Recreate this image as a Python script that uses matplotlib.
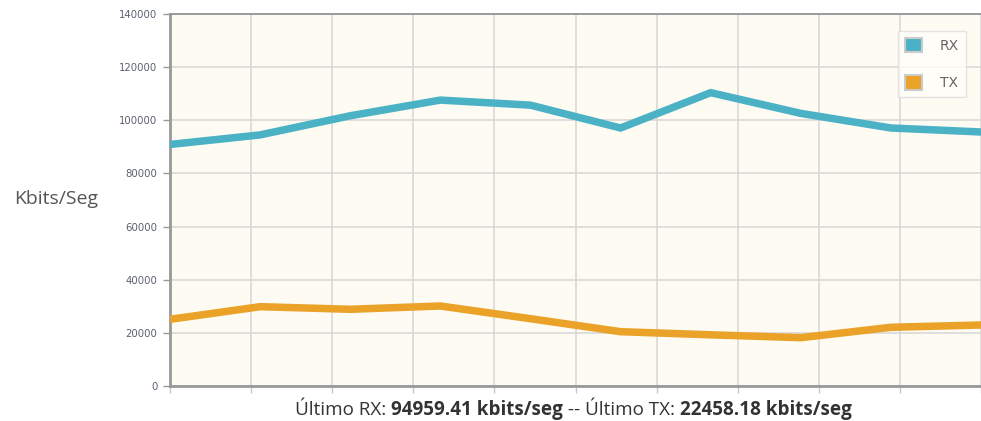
import matplotlib.pyplot as plt
import numpy as np
from matplotlib.patches import Patch

# readings, one per sample (kbits/seg)
rx_values = [90900, 94500, 101700, 107600, 105700, 97100, 110400, 102600, 97100, 95600]
tx_values = [25100, 29850, 28870, 30110, 25330, 20440, 19270, 18180, 22090, 22960]
series_names = ["RX", "TX"]
series_colors = ["#4bb2c5", "#eaa228"]
y_ticks = [0, 20000, 40000, 60000, 80000, 100000, 120000, 140000]
last_rx = "94959.41"
last_tx = "22458.18"

x = np.arange(len(rx_values))

fig = plt.figure(figsize=(9.81, 4.21), dpi=100)
fig.patch.set_facecolor("white")
ax = fig.add_axes([170 / 981, 1 - 386 / 421, 811 / 981, 372 / 421])
ax.set_facecolor("#fefbf3")

for vals, name, col in zip([rx_values, tx_values], series_names, series_colors):
    ax.plot(x, vals, color=col, lw=5.4, solid_joinstyle="miter", label=name, zorder=3)

ax.set_xlim(0, len(x) - 1)
ax.set_ylim(0, 140000)
ax.set_yticks(y_ticks)
ax.set_yticklabels([str(v) for v in y_ticks])
ax.set_xticks(np.linspace(0, len(x) - 1, 11))
ax.set_xticklabels([])
ax.grid(True, color="#d6d6d6", lw=1.1, zorder=0)
ax.tick_params(axis="y", length=5, width=1, color="#999999", labelsize=7.3,
               labelcolor="#5a6070", pad=4)
ax.tick_params(axis="x", length=5, width=1, color="#c8c8c8", direction="out")

for side in ["left", "bottom"]:
    ax.spines[side].set_color("#999999")
    ax.spines[side].set_linewidth(2)
ax.spines["top"].set_color("#9a9a9a")
ax.spines["top"].set_linewidth(1.4)
ax.spines["right"].set_visible(False)

fig.text(56 / 981, 1 - 199 / 421, "Kbits/Seg", fontsize=14, color="#555555",
         ha="center", va="center", family="Open Sans")

handles = [Patch(facecolor=c, edgecolor="#cccccc", lw=1.5) for c in series_colors]
leg = ax.legend(handles, series_names, loc="upper right", bbox_to_anchor=(0.9815, 0.955),
                frameon=True, fancybox=False, fontsize=10, labelspacing=1.6,
                handlelength=1.25, handleheight=1.25, handletextpad=1.3,
                borderpad=0.5, borderaxespad=0)
leg.get_frame().set_edgecolor("#dddddd")
leg.get_frame().set_facecolor("#fffefa")
leg.get_frame().set_linewidth(1)
for t in leg.get_texts():
    t.set_color("#666666")

# footer with mixed weights
parts = [("Último RX: ", "normal"), (last_rx + " kbits/seg", "bold"),
         (" -- Último TX: ", "normal"), (last_tx + " kbits/seg", "bold")]
fig.canvas.draw()
renderer = fig.canvas.get_renderer()
texts = []
for s, w in parts:
    texts.append(fig.text(0, 1 - 410 / 421, s, fontsize=13.6, weight=w, color="#333333",
                          family="Open Sans", va="center", ha="left"))
widths = [t.get_window_extent(renderer).width for t in texts]
total = sum(widths)
xpos = 573 - total / 2
for t, w in zip(texts, widths):
    t.set_x(xpos / 981)
    xpos += w

fig.savefig("out.png", dpi=100)
